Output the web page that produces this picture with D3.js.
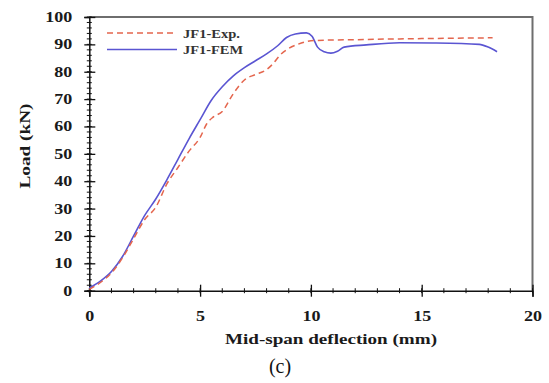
<!DOCTYPE html>
<html>
<head>
<meta charset="utf-8">
<script src="https://cdn.jsdelivr.net/npm/d3@7"></script>
<style>
  body { margin: 0; background: #fff; }
  text { font-family: "Liberation Serif", "Times New Roman", serif; }
</style>
</head>
<body>
<div class="chart"></div>
<script>
var width = 549;
var height = 383;

// test curve JF1-Exp.
var expX = [0, 0.5, 1, 1.5, 2, 2.5, 3, 3.5, 4, 4.5, 5, 5.3, 5.6, 6, 6.5, 7, 7.5, 8, 8.3, 8.6, 9, 9.4, 10, 11, 12, 13, 14, 15, 16, 17, 18.2];
var expY = [0.5, 3, 6.5, 12, 19, 26, 30.5, 39, 45, 51, 56, 61, 63.5, 65.5, 72, 77, 79, 80.8, 83, 86, 88.5, 90, 91.3, 91.6, 91.7, 91.9, 92, 92.1, 92.2, 92.3, 92.4];

// model curve JF1-FEM
var femX = [0, 0.5, 1, 1.5, 2, 2.5, 3, 3.5, 4, 4.5, 5, 5.5, 6, 6.5, 7, 7.5, 8, 8.5, 8.9, 9.3, 9.8, 10.05, 10.3, 10.6, 10.9, 11.2, 11.5, 12.5, 14, 15.5, 17.6, 18, 18.4];
var femY = [1, 3.5, 7, 12.5, 20, 27.5, 33.5, 40.5, 48, 55.5, 62.5, 69.5, 74.5, 78.5, 81.5, 84, 86.5, 89.5, 92.5, 93.8, 94.2, 93, 89, 87.3, 86.8, 87.5, 89, 89.8, 90.6, 90.5, 90, 89, 87.3];

var xTicks = [0, 5, 10, 15, 20];
var yTicks = [0, 10, 20, 30, 40, 50, 60, 70, 80, 90, 100];
var legendNames = ["JF1-Exp.", "JF1-FEM"];

var plotLeft = 89.3, plotRight = 532.5, plotTop = 17, plotBottom = 290.7;

var x = d3.scaleLinear().domain([0, 20]).range([plotLeft, plotRight]);
var y = d3.scaleLinear().domain([0, 100]).range([plotBottom, plotTop]);

var svg = d3.select(".chart")
    .append("svg")
    .attr("width", width)
    .attr("height", height);

svg.append("rect")
    .attr("width", width)
    .attr("height", height)
    .attr("fill", "white");

// top and right frame
svg.append("path")
    .attr("d", "M" + plotLeft + "," + plotTop + "H" + plotRight + "V" + plotBottom)
    .attr("fill", "none")
    .attr("stroke", "#6e6e6e")
    .attr("stroke-width", 2);

// minor ticks
svg.append("g").selectAll("line")
    .data(d3.range(0, 101, 2))
    .enter().append("line")
    .attr("x1", plotLeft - 2.5).attr("x2", plotLeft + 2.5)
    .attr("y1", function(d) { return y(d); })
    .attr("y2", function(d) { return y(d); })
    .attr("stroke", "#111").attr("stroke-width", 1);

svg.append("g").selectAll("line")
    .data(d3.range(0, 21, 1))
    .enter().append("line")
    .attr("y1", plotBottom - 2.5).attr("y2", plotBottom + 2.5)
    .attr("x1", function(d) { return x(d); })
    .attr("x2", function(d) { return x(d); })
    .attr("stroke", "#111").attr("stroke-width", 1);

var xAxis = d3.axisBottom(x).tickValues(xTicks).tickSize(6).tickPadding(14).tickFormat(d3.format("d"));
var yAxis = d3.axisLeft(y).tickValues(yTicks).tickSize(5).tickPadding(12).tickFormat(d3.format("d"));

var gx = svg.append("g")
    .attr("transform", "translate(0," + plotBottom + ")")
    .call(xAxis);

var gy = svg.append("g")
    .attr("transform", "translate(" + plotLeft + ",0)")
    .call(yAxis);

[gx, gy].forEach(function(g) {
    g.select(".domain").attr("stroke", "#111").attr("stroke-width", 1.5);
    g.selectAll(".tick line").attr("stroke", "#111").attr("stroke-width", 1.3);
    g.selectAll(".tick text")
        .attr("fill", "#1a1a1a")
        .style("font-size", "14px")
        .style("font-weight", "bold")
        .attr("textLength", function(d) { return String(d).length * 9; })
        .attr("lengthAdjust", "spacingAndGlyphs");
});
// ticks cross the axis
gx.selectAll(".tick line").attr("y1", -6);
gy.selectAll(".tick line").attr("x1", 6);

var line = d3.line()
    .x(function(d) { return x(d[0]); })
    .y(function(d) { return y(d[1]); })
    .curve(d3.curveMonotoneX);

var expData = expX.map(function(v, i) { return [v, expY[i]]; });
var femData = femX.map(function(v, i) { return [v, femY[i]]; });

svg.append("path")
    .attr("d", line(femData))
    .attr("fill", "none")
    .attr("stroke", "#5a55d2")
    .attr("stroke-width", 1.6);

svg.append("path")
    .attr("d", line(expData))
    .attr("fill", "none")
    .attr("stroke", "#e4664e")
    .attr("stroke-width", 1.5)
    .attr("stroke-dasharray", "6,4");

// legend
var legend = svg.append("g");
legend.append("line")
    .attr("x1", 107).attr("x2", 177).attr("y1", 33).attr("y2", 33)
    .attr("stroke", "#e4664e").attr("stroke-width", 1.5).attr("stroke-dasharray", "6,4");
legend.append("line")
    .attr("x1", 107).attr("x2", 177).attr("y1", 49.5).attr("y2", 49.5)
    .attr("stroke", "#5a55d2").attr("stroke-width", 1.6);
legend.selectAll("text")
    .data(legendNames)
    .enter().append("text")
    .attr("x", 183)
    .attr("y", function(d, i) { return 37.5 + i * 16.5; })
    .attr("textLength", function(d, i) { return i == 0 ? 57 : 60; })
    .attr("lengthAdjust", "spacingAndGlyphs")
    .style("font-size", "12px")
    .style("font-weight", "bold")
    .attr("fill", "#333")
    .text(function(d) { return d; });

// axis titles
svg.append("text")
    .attr("x", 331)
    .attr("y", 344)
    .attr("text-anchor", "middle")
    .attr("textLength", 212)
    .attr("lengthAdjust", "spacingAndGlyphs")
    .style("font-size", "15px")
    .style("font-weight", "bold")
    .attr("fill", "#1a1a1a")
    .text("Mid-span deflection (mm)");

svg.append("text")
    .attr("transform", "translate(30,146) rotate(-90)")
    .attr("text-anchor", "middle")
    .attr("textLength", 85)
    .attr("lengthAdjust", "spacingAndGlyphs")
    .style("font-size", "15px")
    .style("font-weight", "bold")
    .attr("fill", "#1a1a1a")
    .text("Load (kN)");

svg.append("text")
    .attr("x", 280)
    .attr("y", 373)
    .attr("text-anchor", "middle")
    .style("font-size", "20px")
    .attr("fill", "#111")
    .text("(c)");
</script>
</body>
</html>
